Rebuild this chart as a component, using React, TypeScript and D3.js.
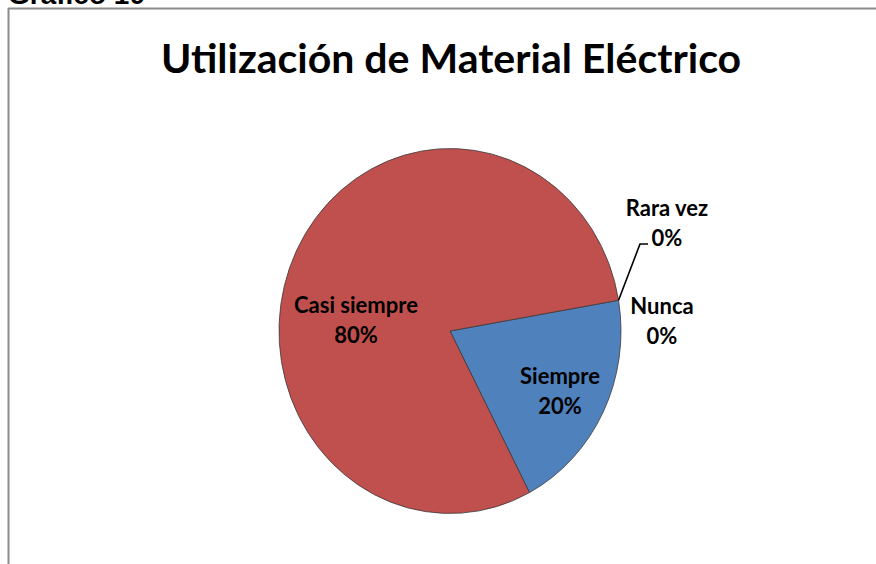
import React from "react";
import * as d3 from "d3";

const categories = ["Nunca", "Siempre", "Casi siempre", "Rara vez"];
const values = [0, 20, 80, 0];
const percentLabels = ["0%", "20%", "80%", "0%"];
const colors = ["#9BBB59", "#4F81BD", "#C0504D", "#8064A2"];
const title = "Utilización de Material Eléctrico";
const caption = "Gráfico 10";

export default function App() {
  const W = 876;
  const H = 564;
  const cx = 450;
  const cy = 331;
  const r = 171;
  const sy = 182.5 / 171;
  const start = (80.3 * Math.PI) / 180;

  const pie = d3
    .pie<number>()
    .sort(null)
    .startAngle(start)
    .endAngle(start + 2 * Math.PI)
    .value((d) => d);
  const arcs = pie(values);
  const arc = d3.arc<d3.PieArcDatum<number>>().innerRadius(0).outerRadius(r);

  const font = "Lato, 'Open Sans', 'DejaVu Sans', sans-serif";

  const labelPos: { [k: string]: [number, number] } = {
    Nunca: [662, 306],
    Siempre: [560, 376],
    "Casi siempre": [356, 305],
    "Rara vez": [667, 208],
  };

  const edge = arcs[3].endAngle;
  const ex = cx + Math.sin(edge) * r;
  const ey = cy - Math.cos(edge) * r * sy;

  return (
    <svg
      width={W}
      height={H}
      style={{ position: "absolute", left: 0, top: 0, background: "#fff" }}
    >
      <rect x={0} y={0} width={W} height={H} fill="#fff" />
      <text x={8} y={4} fontFamily="Arial, 'Liberation Sans', sans-serif" fontWeight="bold" fontSize={28} fill="#000">
        {caption}
      </text>
      <line x1={8} y1={8.5} x2={W} y2={8.5} stroke="#8c8c8c" strokeWidth={2} />
      <line x1={8.5} y1={8} x2={8.5} y2={H} stroke="#8c8c8c" strokeWidth={2} />
      <text
        x={451}
        y={73}
        textAnchor="middle"
        fontFamily={font}
        fontWeight="bold"
        fontSize={41}
        fill="#000"
      >
        {title}
      </text>
      <g transform={`translate(${cx},${cy}) scale(1,${sy})`}>
        {arcs.map((a, i) =>
          values[i] > 0 ? (
            <path
              key={i}
              d={arc(a) || ""}
              fill={colors[i]}
              stroke="#3a3a3a"
              strokeWidth={0.8}
              vectorEffect="non-scaling-stroke"
            />
          ) : null
        )}
      </g>
      <polyline
        points={`${ex},${ey} ${640},${244} ${648},${244}`}
        fill="none"
        stroke="#000"
        strokeWidth={1.6}
      />
      {categories.map((c, i) => {
        const [lx, ly] = labelPos[c];
        return (
          <text
            key={c}
            textAnchor="middle"
            fontFamily={font}
            fontWeight="bold"
            fontSize={22}
            fill="#000"
          >
            <tspan x={lx} y={ly + 8}>
              {c}
            </tspan>
            <tspan x={lx} y={ly + 38}>
              {percentLabels[i]}
            </tspan>
          </text>
        );
      })}
    </svg>
  );
}
